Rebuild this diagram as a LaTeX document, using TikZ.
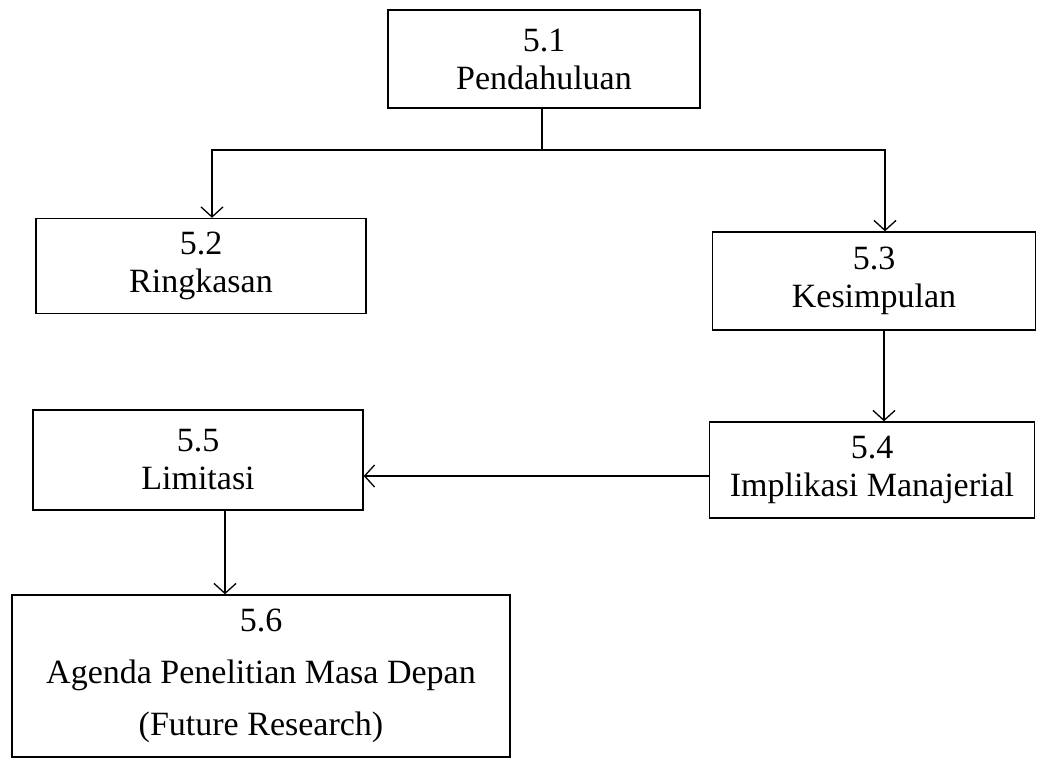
\documentclass[tikz,border=0pt]{standalone}
\usepackage{fontspec}
\setmainfont{Liberation Serif}
\usetikzlibrary{arrows.meta}
\begin{document}
\begin{tikzpicture}[x=1pt,y=-1pt,
  box/.style={draw,line width=1.4pt,rectangle,inner sep=0pt,align=center,
    font=\fontsize{34}{38}\selectfont},
  link/.style={line width=1.3pt},
  arr/.style={link,-{Straight Barb[length=10pt,width=22pt,line width=1.3pt]}}]
\useasboundingbox (0,0) rectangle (1039,761);

% chapter boxes
\node[box,minimum width=312pt,minimum height=98pt] (b51) at (544,59)
  {5.1\\Pendahuluan};
\node[box,minimum width=330pt,minimum height=95pt] (b52) at (201,266)
  {5.2\\Ringkasan};
\node[box,minimum width=323pt,minimum height=98pt] (b53) at (874,281)
  {5.3\\Kesimpulan};
\node[box,minimum width=325pt,minimum height=96pt] (b54) at (872,470)
  {5.4\\Implikasi Manajerial};
\node[box,minimum width=330pt,minimum height=100pt] (b55) at (198,460)
  {5.5\\Limitasi};
\node[box,minimum width=498pt,minimum height=162pt,
  font=\fontsize{34}{52}\selectfont] (b56) at (261,676)
  {5.6\\Agenda Penelitian Masa Depan\\(Future Research)};

% connectors (shifts are in page units: negative yshift moves down)
\coordinate (split) at (542,150);
\draw[link] ([xshift=-2pt]b51.south) -- (split);
\draw[arr] (split) -| ([xshift=11pt]b52.north);
\draw[arr] (split) -| ([xshift=11pt]b53.north);
\draw[arr] ([xshift=10pt]b53.south) -- ([xshift=12pt]b54.north);
\draw[arr] ([yshift=-6pt]b54.west) -- ([yshift=-16pt]b55.east);
\draw[arr] ([xshift=27pt]b55.south) -- ([xshift=-36pt]b56.north);
\end{tikzpicture}
\end{document}
